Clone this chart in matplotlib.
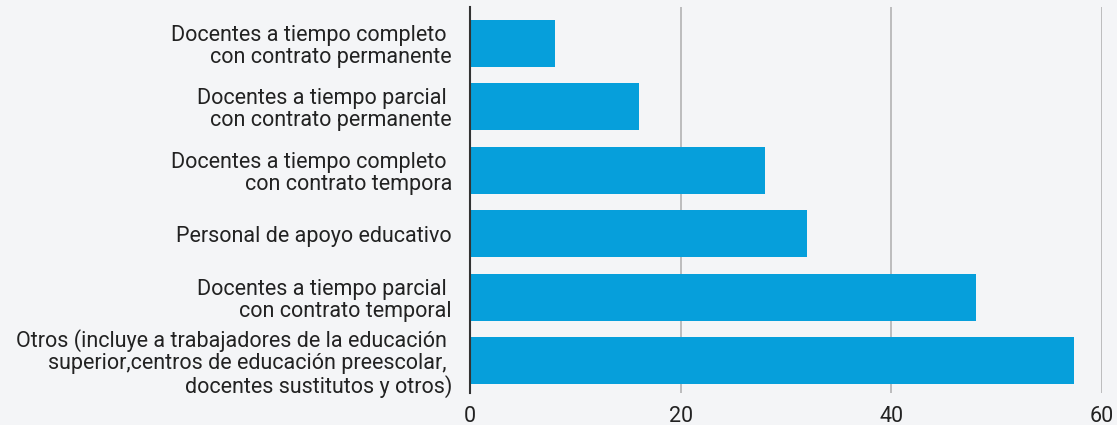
import matplotlib
matplotlib.use("Agg")
import matplotlib.pyplot as plt

categories = [
    "Docentes a tiempo completo \ncon contrato permanente",
    "Docentes a tiempo parcial \ncon contrato permanente",
    "Docentes a tiempo completo \ncon contrato tempora",
    "Personal de apoyo educativo",
    "Docentes a tiempo parcial \ncon contrato temporal",
    "Otros (incluye a trabajadores de la educación \nsuperior,centros de educación preescolar, \ndocentes sustitutos y otros)",
]
values = [8.1, 16, 28, 32, 48, 57.3]
xticks = [0, 20, 40, 60]

bg = "#f4f5f7"
bar_color = "#069fdb"

plt.rcParams["font.family"] = ["Roboto", "DejaVu Sans"]

fig = plt.figure(figsize=(11.17, 4.25), dpi=100, facecolor=bg)
ax = fig.add_axes([470/1117, 1-393/425, (1102-470)/1117, (393-7)/425], facecolor=bg)

y = list(range(len(categories)))
ax.barh(y, values, height=0.74, color=bar_color, zorder=3)
ax.set_ylim(5.51, -0.576)
ax.set_xlim(0, 60)
ax.set_xticks(xticks)
ax.set_xticklabels([str(t) for t in xticks])
ax.set_yticks(y)
ax.set_yticklabels(categories, multialignment="right", linespacing=1.05)

for s in ["top", "right", "bottom"]:
    ax.spines[s].set_visible(False)
ax.spines["left"].set_color("#333333")
ax.spines["left"].set_linewidth(1.5)
ax.spines["left"].set_zorder(4)

ax.grid(axis="x", color="#b8b8b8", linewidth=1.3, zorder=1)
ax.tick_params(axis="both", length=0, labelsize=15.5, colors="#222222")
ax.tick_params(axis="y", pad=13)
ax.tick_params(axis="x", pad=9)
for lbl in ax.get_xticklabels():
    lbl.set_clip_on(False)

fig.savefig("out.png", dpi=100, facecolor=bg)
